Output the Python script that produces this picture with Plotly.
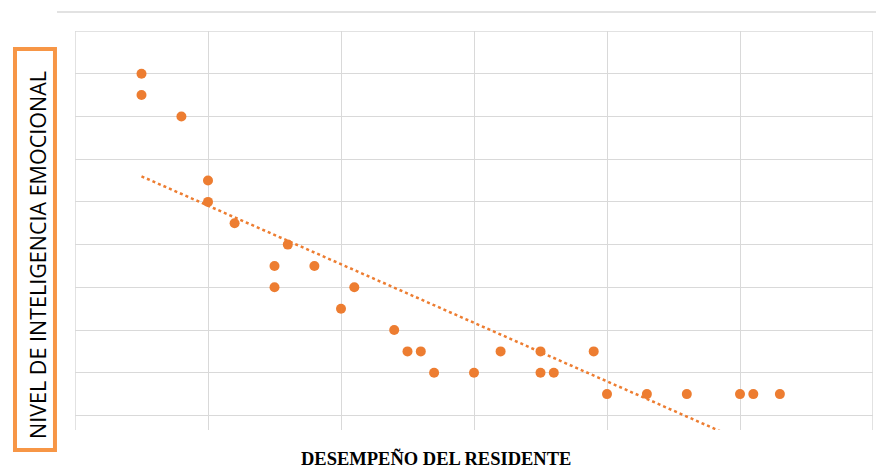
import numpy as np
import plotly.graph_objects as go

# puntos (desempeño vs inteligencia emocional)
desempeno = [0.5, 0.5, 0.8, 1.0, 1.0, 1.2, 1.5, 1.6, 1.5, 1.8, 2.0, 2.1, 2.4, 2.5,
             2.6, 2.7, 3.0, 3.2, 3.5, 3.5, 3.6, 3.9, 4.0, 4.3, 4.6, 5.0, 5.1, 5.3]
inteligencia = [8.0, 7.5, 7.0, 5.5, 5.0, 4.5, 3.5, 4.0, 3.0, 3.5, 2.5, 3.0, 2.0, 1.5,
                1.5, 1.0, 1.0, 1.5, 1.5, 1.0, 1.0, 1.5, 0.5, 0.5, 0.5, 0.5, 0.5, 0.5]

x_title = "DESEMPEÑO DEL RESIDENTE"
y_title = "NIVEL DE INTELIGENCIA EMOCIONAL"

orange = "#ED7D31"
grid = "#D9D9D9"
x_rng = [0, 6]
y_rng = [-0.34, 9]

# linea de tendencia lineal (minimos cuadrados), como la de Excel
m, b = np.polyfit(desempeno, inteligencia, 1)
tx = np.array([min(desempeno), max(desempeno)])
ty = m * tx + b

fig = go.Figure()
fig.add_trace(go.Scatter(x=desempeno, y=inteligencia, mode="markers",
                         marker=dict(color=orange, size=10), name="Datos"))
fig.add_trace(go.Scatter(x=tx, y=ty, mode="lines",
                         line=dict(color=orange, width=2.5, dash="dot"), name="Lineal"))

# la pagina tiene 8px de margen en el body
fig.update_layout(
    width=876, height=460,
    margin=dict(l=67, r=11, t=23, b=38, autoexpand=False),
    paper_bgcolor="white", plot_bgcolor="white",
    showlegend=False,
)
fig.update_xaxes(range=x_rng, dtick=1, showgrid=True, gridcolor=grid, gridwidth=1,
                 zeroline=False, showticklabels=False, ticks="")
fig.update_yaxes(range=y_rng, dtick=1, tick0=0, showgrid=True, gridcolor=grid,
                 gridwidth=1, zeroline=False, showticklabels=False, ticks="")

# lineas de rejilla en los bordes (izquierda, derecha, arriba)
for xv in x_rng:
    fig.add_shape(type="line", x0=xv, x1=xv, y0=y_rng[0], y1=y_rng[1],
                  line=dict(color=grid, width=1.5), layer="below")
fig.add_shape(type="line", x0=x_rng[0], x1=x_rng[1], y0=y_rng[1], y1=y_rng[1],
              line=dict(color=grid, width=1.5), layer="below")

# recuadro naranja del titulo vertical
fig.add_shape(type="rect", xref="paper", yref="paper",
              x0=-0.0752, x1=-0.0251, y0=-0.050, y1=0.955,
              line=dict(color="#F79646", width=4), fillcolor="white")
# borde superior del area del grafico
fig.add_shape(type="line", xref="paper", yref="paper",
              x0=-0.0226, x1=1.02, y0=1.0476, y1=1.0476,
              line=dict(color=grid, width=1.5))

fig.add_annotation(text=y_title, xref="paper", yref="paper",
                   x=-0.047, y=0.44, xanchor="center", yanchor="middle",
                   textangle=-90, showarrow=False,
                   font=dict(family="Open Sans", size=21.5, color="black"))
fig.add_annotation(text="<b>" + x_title + "</b>", xref="paper", yref="paper",
                   x=0.453, y=-0.072, xanchor="center", yanchor="middle",
                   showarrow=False,
                   font=dict(family="Liberation Serif", size=18.5, color="black"))

fig.write_html("out.html")
